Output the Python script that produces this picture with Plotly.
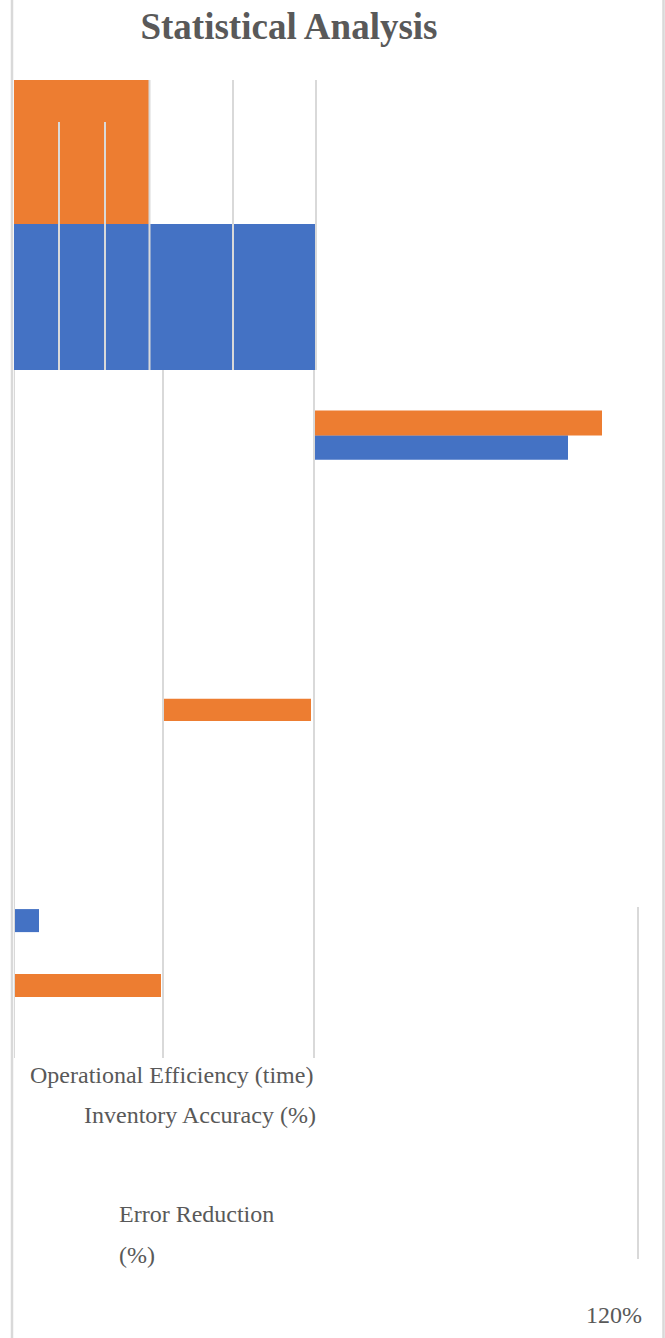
import plotly.graph_objects as go

# ---------------- data ----------------
categories = ["Operational Efficiency (time)", "Inventory Accuracy (%)", "Error Reduction (%)"]
series_names = ["Before", "After"]

# blue series (Before): bar rows, start and end values (%)
blue_rows = [8.86, 15.0, 34.31]
blue_start = [0, 60, 0]
blue_end = [60.3, 110.8, 5.0]

# orange series (After)
orange_rows = [2.94, 14.0, 25.71, 36.96]
orange_start = [0, 60, 29.8, 0]
orange_end = [27.1, 117.6, 59.4, 29.4]

tick_vals = [120]
tick_labels = ["120%"]

# ---------------- styles ----------------
W, H = 665, 1338
BLUE = "#4472C4"
ORANGE = "#ED7D31"
GRID = "#D9D9D9"
TXT = "#595959"
FONT = "Liberation Serif"
blue_thick = [5.96, 1.0, 0.94]
orange_thick = [5.88, 1.02, 0.9, 0.94]


def px(x):
    return x / W


def py(y):
    return 1 - y / H


fig = go.Figure()
fig.add_trace(go.Bar(
    name=series_names[0], orientation="h", y=blue_rows,
    x=[e - s for s, e in zip(blue_start, blue_end)], base=blue_start,
    width=blue_thick, marker=dict(color=BLUE, line=dict(width=0)),
))
fig.add_trace(go.Bar(
    name=series_names[1], orientation="h", y=orange_rows,
    x=[e - s for s, e in zip(orange_start, orange_end)], base=orange_start,
    width=orange_thick, marker=dict(color=ORANGE, line=dict(width=0)),
))

shapes = []
# gridlines in upper block
for xv, y0 in [(9.0, 122), (18.2, 122), (27.1, 80), (43.8, 80), (60.4, 80)]:
    shapes.append(dict(type="line", xref="x", yref="paper", x0=xv, x1=xv,
                       y0=py(y0), y1=py(370), line=dict(color=GRID, width=2), layer="above"))
# gridlines in lower block
for xv in [0, 29.8, 60]:
    shapes.append(dict(type="line", xref="x", yref="paper", x0=xv, x1=xv,
                       y0=py(370), y1=py(1058), line=dict(color=GRID, width=2), layer="above"))
# right partial line
shapes.append(dict(type="line", xref="paper", yref="paper", x0=px(638), x1=px(638),
                   y0=py(907), y1=py(1259), line=dict(color=GRID, width=2)))
# chart borders
for xb in [12, 663.5]:
    shapes.append(dict(type="line", xref="paper", yref="paper", x0=px(xb), x1=px(xb),
                       y0=0, y1=1, line=dict(color=GRID, width=2.5)))

annotations = [
    dict(text=categories[0], x=px(315), y=py(1075), xanchor="right", yanchor="middle"),
    dict(text=categories[1], x=px(318), y=py(1115), xanchor="right", yanchor="middle"),
]
er_a, er_b = categories[2].rsplit(" ", 1)
annotations += [
    dict(text=er_a, x=px(117), y=py(1214), xanchor="left", yanchor="middle"),
    dict(text=er_b, x=px(117), y=py(1255), xanchor="left", yanchor="middle"),
]
for a in annotations:
    a.update(xref="paper", yref="paper", showarrow=False,
             font=dict(family=FONT, size=24, color=TXT))

fig.update_layout(
    template="none",
    width=W, height=H, autosize=False,
    margin=dict(l=0, r=0, t=0, b=0, pad=0, autoexpand=False),
    paper_bgcolor="white", plot_bgcolor="rgba(0,0,0,0)",
    barmode="overlay", showlegend=False,
    title=dict(text="<b>Statistical Analysis</b>", x=px(289), y=py(26),
               xanchor="center", yanchor="middle",
               font=dict(family=FONT, size=37, color=TXT)),
    xaxis=dict(domain=[px(14), px(614)], range=[0, 120], showgrid=False, zeroline=False,
               showline=False, tickvals=tick_vals, ticktext=tick_labels, ticks="",
               anchor="free", position=py(1298), automargin=False,
               tickfont=dict(family=FONT, size=24, color=TXT)),
    yaxis=dict(domain=[py(1060), py(80)], range=[40, 0], visible=False, automargin=False),
    shapes=shapes,
    annotations=annotations,
)

post = ("document.body.style.margin='0';document.body.style.overflow='hidden';"
        "var gd=document.getElementById('{plot_id}');"
        "Plotly.relayout(gd,{width:665,height:1338});")

fig.write_html("out.html", config={"responsive": False, "displayModeBar": False},
               post_script=post)
